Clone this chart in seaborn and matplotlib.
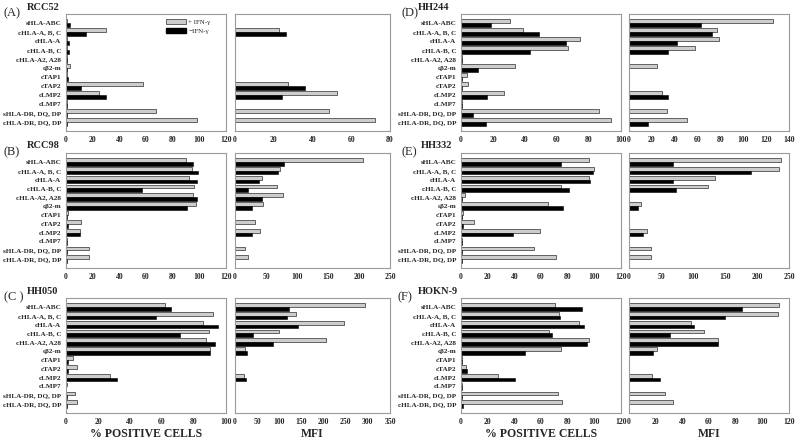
import pandas as pd
import matplotlib.pyplot as plt
import seaborn as sns
from matplotlib.patches import Patch

categories = ['sHLA-ABC', 'cHLA-A, B, C', 'cHLA-A', 'cHLA-B, C', 'cHLA-A2, A28',
              'cβ2-m', 'cTAP1', 'cTAP2', 'cLMP2', 'cLMP7',
              'sHLA-DR, DQ, DP', 'cHLA-DR, DQ, DP']
treatments = ['+ IFN-γ', '−IFN-γ']

# (A) RCC52
a_pct_plus = [0.5, 30, 0.5, 0.5, 1, 2.7, 0.5, 57.7, 24.5, 0.5, 67.3, 98]
a_pct_minus = [3, 15, 2, 2, 1, 1, 1.5, 11.4, 30, 1, 1, 1]
a_mfi_plus = [0, 22.8, 0, 0, 0, 0, 0, 27.2, 52.6, 0, 48.3, 72.4]
a_mfi_minus = [0, 26.2, 0, 0, 0, 0, 0, 36.1, 24.3, 0, 0, 0]

# (B) RCC98
b_pct_plus = [89.9, 94.8, 92.6, 96, 95.5, 97.3, 1.5, 11, 10.4, 0.5, 17.3, 17.6]
b_pct_minus = [95.3, 99.3, 98.3, 57, 98.3, 91, 0.5, 1.5, 10.6, 0.5, 0.5, 0.5]
b_mfi_plus = [207, 72, 44, 67, 77, 45, 0, 33, 40, 0, 16, 21]
b_mfi_minus = [78.6, 69.6, 38.5, 21, 43, 27, 0, 0, 27, 0, 0, 0]

# (C) HH050
c_pct_plus = [62, 92, 85.6, 89.3, 87.6, 90, 4.1, 6.6, 27.8, 0.5, 5.6, 6.6]
c_pct_minus = [65.8, 56.3, 94.8, 71, 93.2, 89.7, 1, 1.5, 32, 0.3, 0.5, 0.5]
c_mfi_plus = [294, 137, 247, 100, 205, 23, 0, 0, 20, 0, 0, 0]
c_mfi_minus = [123, 118, 142, 41, 86, 27, 0, 0, 24, 0, 0, 0]

# (D) HH244
d_pct_plus = [30.6, 39, 74.6, 67, 0.5, 34, 3.5, 4.4, 27, 0.5, 86, 93.5]
d_pct_minus = [19, 48.5, 65.6, 43, 0.5, 10.4, 0.5, 0.5, 16, 0.5, 7.5, 15.6]
d_mfi_plus = [126, 77, 78.5, 58, 0, 24.4, 0, 0, 28.5, 0, 33, 51]
d_mfi_minus = [62.8, 73, 42, 34.4, 0, 0, 0, 0, 34.4, 0, 0, 17]

# (E) HH332
e_pct_plus = [96, 99.8, 95.8, 75, 3, 65, 1.5, 10, 59, 0.5, 55, 71]
e_pct_minus = [75, 99.3, 96.5, 81, 0.5, 76.5, 0.5, 1.5, 38.8, 0.5, 1, 1]
e_mfi_plus = [237, 234, 134, 123, 0, 19, 0, 0, 28, 0, 34.5, 35]
e_mfi_minus = [69, 190, 68, 74, 0, 13.6, 0, 0, 22.5, 0, 0, 0]

# (F) HOKN-9
f_pct_plus = [70.8, 73.8, 88.5, 65.8, 96, 75, 0.5, 4, 27.8, 0.5, 73, 76]
f_pct_minus = [90.5, 74, 92.5, 68.5, 94.5, 47.8, 0.5, 4.3, 40.8, 0.5, 0.5, 1.5]
f_mfi_plus = [112.6, 111.8, 46.3, 56, 67, 21, 0, 0, 17.6, 0, 27, 33]
f_mfi_minus = [85, 71.8, 48.9, 31, 67, 18, 0, 0, 23, 0, 0, 0]

panel_letters = ['(A)', '(B)', '(C )', '(D)', '(E)', '(F)']
cell_lines = ['RCC52', 'RCC98', 'HH050', 'HH244', 'HH332', 'HOKN-9']


def draw(ax, plus, minus, xmax, step):
    df = pd.DataFrame({
        'marker': categories * 2,
        'value': plus + minus,
        'treatment': [treatments[0]] * len(categories) + [treatments[1]] * len(categories),
    })
    sns.barplot(data=df, y='marker', x='value', hue='treatment', order=categories,
                hue_order=treatments, palette=['#cdcdcd', 'black'], orient='h',
                edgecolor='black', linewidth=0.4, width=0.86, ax=ax, legend=False,
                errorbar=None)
    ax.set_xlim(0, xmax)
    ax.set_ylim(len(categories), -1)
    ax.set_xticks(range(0, xmax + 1, step))
    ax.set_xlabel('')
    ax.set_ylabel('')
    for s in ax.spines.values():
        s.set_color('#9a9a9a')
        s.set_linewidth(0.8)
    ax.tick_params(axis='both', length=1.5, width=0.5, color='#777777')
    ax.tick_params(axis='x', labelsize=5.6, pad=2)
    ax.tick_params(axis='y', labelsize=5.1, pad=2)
    for t in ax.get_xticklabels() + ax.get_yticklabels():
        t.set_fontweight('bold')


def main():
    sns.set_style('white')
    plt.rcParams['font.family'] = ['Liberation Serif', 'DejaVu Serif']

    fig = plt.figure(figsize=(8, 4.41), dpi=100)
    W, H = 800, 441

    rows = [(14, 131), (153, 268), (298, 413)]
    cols = [((66, 226), (235, 390)), ((461, 621), (629, 789))]
    pct_data = [(a_pct_plus, a_pct_minus, 120, 20), (b_pct_plus, b_pct_minus, 120, 20),
                (c_pct_plus, c_pct_minus, 100, 20), (d_pct_plus, d_pct_minus, 100, 20),
                (e_pct_plus, e_pct_minus, 120, 20), (f_pct_plus, f_pct_minus, 120, 20)]
    mfi_data = [(a_mfi_plus, a_mfi_minus, 80, 20), (b_mfi_plus, b_mfi_minus, 250, 50),
                (c_mfi_plus, c_mfi_minus, 350, 50), (d_mfi_plus, d_mfi_minus, 140, 20),
                (e_mfi_plus, e_mfi_minus, 250, 50), (f_mfi_plus, f_mfi_minus, 120, 20)]
    title_x = [(4, 27), (4, 27), (4, 27), (401, 418), (401, 421), (398, 418)]

    for i in range(6):
        c, r = divmod(i, 3)
        top, bot = rows[r]
        (l1, r1), (l2, r2) = cols[c]
        ax1 = fig.add_axes([l1 / W, 1 - bot / H, (r1 - l1) / W, (bot - top) / H])
        ax2 = fig.add_axes([l2 / W, 1 - bot / H, (r2 - l2) / W, (bot - top) / H])
        draw(ax1, *pct_data[i])
        draw(ax2, *mfi_data[i])
        ax2.set_yticklabels([])

        lx, nx = title_x[i]
        fig.text(lx / W, 1 - (top - 1) / H, panel_letters[i], fontsize=9,
                 ha='left', va='center')
        fig.text(nx / W, 1 - (top - 7) / H, cell_lines[i], fontsize=7.5,
                 fontweight='bold', ha='left', va='center')

        if r == 2:
            ax1.set_xlabel('% POSITIVE CELLS', fontsize=8.5, fontweight='bold', labelpad=1.5)
            ax2.set_xlabel('MFI', fontsize=8.5, fontweight='bold', labelpad=1.5)

        if i == 0:
            handles = [Patch(facecolor='#cdcdcd', edgecolor='black', linewidth=0.4),
                       Patch(facecolor='black', edgecolor='black')]
            ax1.legend(handles, treatments, loc='upper left', bbox_to_anchor=(0.6, 0.99),
                       frameon=False, fontsize=5, handlelength=2.8, handleheight=0.6,
                       labelspacing=0.5, handletextpad=0.4, borderaxespad=0.2)

    fig.savefig('out.png', dpi=100)


if __name__ == '__main__':
    main()
